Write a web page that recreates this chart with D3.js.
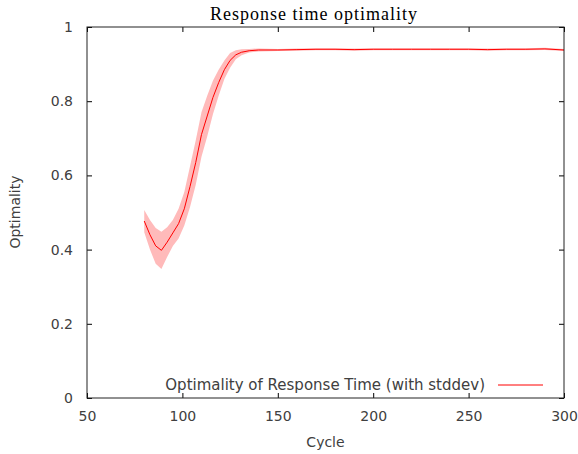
<!DOCTYPE html>
<meta charset="utf-8">
<style>
body { margin: 0; background: #fff; }
text { font-family: "DejaVu Sans", sans-serif; }
</style>
<script src="https://cdn.jsdelivr.net/npm/d3@7"></script>
<body>
<script>
// cycles, mean optimality and its stddev
const cycles = [80, 83, 86, 89, 92, 95, 98, 101, 104, 107, 110, 113, 116, 119, 122, 125, 128, 131, 135, 140,
  150, 160, 170, 180, 190, 200, 210, 220, 230, 240, 250, 260, 270, 280, 290, 300];
const meanVals = [0.477, 0.44, 0.41, 0.398, 0.42, 0.445, 0.47, 0.51, 0.57, 0.635, 0.71, 0.76, 0.81, 0.85, 0.885, 0.91, 0.925, 0.932, 0.936, 0.938,
  0.938, 0.939, 0.94, 0.94, 0.939, 0.94, 0.94, 0.94, 0.94, 0.94, 0.94, 0.939, 0.94, 0.94, 0.941, 0.938];
const stdVals = [0.03, 0.04, 0.048, 0.05, 0.04, 0.035, 0.04, 0.045, 0.055, 0.06, 0.06, 0.055, 0.045, 0.035, 0.025, 0.02, 0.012, 0.008, 0.005, 0.004,
  0.003, 0.003, 0.003, 0.003, 0.003, 0.003, 0.003, 0.003, 0.003, 0.003, 0.003, 0.003, 0.003, 0.003, 0.003, 0.003];
const xTicks = [50, 100, 150, 200, 250, 300];
const yTicks = [0, 0.2, 0.4, 0.6, 0.8, 1];

const data = cycles.map((c, i) => ({cycle: c, mean: meanVals[i], std: stdVals[i]}));

const W = 578, H = 454;
const margin = {top: 27, right: 14, bottom: 56, left: 87};
const width = W - margin.left - margin.right;
const height = H - margin.top - margin.bottom;

const svg = d3.select('body').append('svg')
  .attr('width', W)
  .attr('height', H);

const g = svg.append('g')
  .attr('transform', `translate(${margin.left}, ${margin.top})`);

const x = d3.scaleLinear().domain([50, 300]).range([0, width]);
const y = d3.scaleLinear().domain([0, 1]).range([height, 0]);

// stddev band
g.append('path')
  .datum(data)
  .attr('fill', '#ffbaba')
  .attr('d', d3.area()
    .x(d => x(d.cycle))
    .y0(d => y(d.mean - d.std))
    .y1(d => y(d.mean + d.std)));

// mean line
g.append('path')
  .datum(data)
  .attr('fill', 'none')
  .attr('stroke', '#ff0000')
  .attr('stroke-width', 1)
  .attr('d', d3.line().x(d => x(d.cycle)).y(d => y(d.mean)));

// axes, gnuplot style: inward ticks, mirrored
const styleAxis = sel => {
  sel.select('.domain').remove();
  sel.selectAll('line').attr('stroke', '#000');
  sel.selectAll('text').attr('fill', '#404040').style('font-size', '14px');
};

g.append('g')
  .attr('transform', `translate(0, ${height})`)
  .call(d3.axisBottom(x).tickValues(xTicks).tickSize(-5).tickPadding(13))
  .call(styleAxis);

g.append('g')
  .call(d3.axisTop(x).tickValues(xTicks).tickSize(-5).tickFormat(''))
  .call(styleAxis);

g.append('g')
  .call(d3.axisLeft(y).tickValues(yTicks).tickSize(-5).tickPadding(14).tickFormat(d3.format('')))
  .call(styleAxis);

g.append('g')
  .attr('transform', `translate(${width}, 0)`)
  .call(d3.axisRight(y).tickValues(yTicks).tickSize(-5).tickFormat(''))
  .call(styleAxis);

// frame
g.append('rect')
  .attr('width', width)
  .attr('height', height)
  .attr('fill', 'none')
  .attr('stroke', '#222')
  .attr('stroke-width', 1);

// legend
g.append('text')
  .attr('x', 398)
  .attr('y', 358)
  .attr('text-anchor', 'end')
  .attr('dominant-baseline', 'middle')
  .attr('fill', '#404040')
  .style('font-size', '15px')
  .text('Optimality of Response Time (with stddev)');

g.append('line')
  .attr('x1', 411).attr('x2', 456)
  .attr('y1', 358).attr('y2', 358)
  .attr('stroke', '#ff0000');

// title and labels
svg.append('text')
  .attr('x', 314)
  .attr('y', 20)
  .attr('text-anchor', 'middle')
  .style('font-family', '"Liberation Serif", serif')
  .style('font-size', '18px')
  .style('letter-spacing', '1px')
  .attr('fill', '#000')
  .text('Response time optimality');

svg.append('text')
  .attr('x', margin.left + width / 2)
  .attr('y', 447)
  .attr('text-anchor', 'middle')
  .attr('fill', '#404040')
  .style('font-size', '14px')
  .text('Cycle');

svg.append('text')
  .attr('transform', 'translate(20, 212) rotate(-90)')
  .attr('text-anchor', 'middle')
  .attr('fill', '#404040')
  .style('font-size', '14px')
  .text('Optimality');
</script>
</body>
